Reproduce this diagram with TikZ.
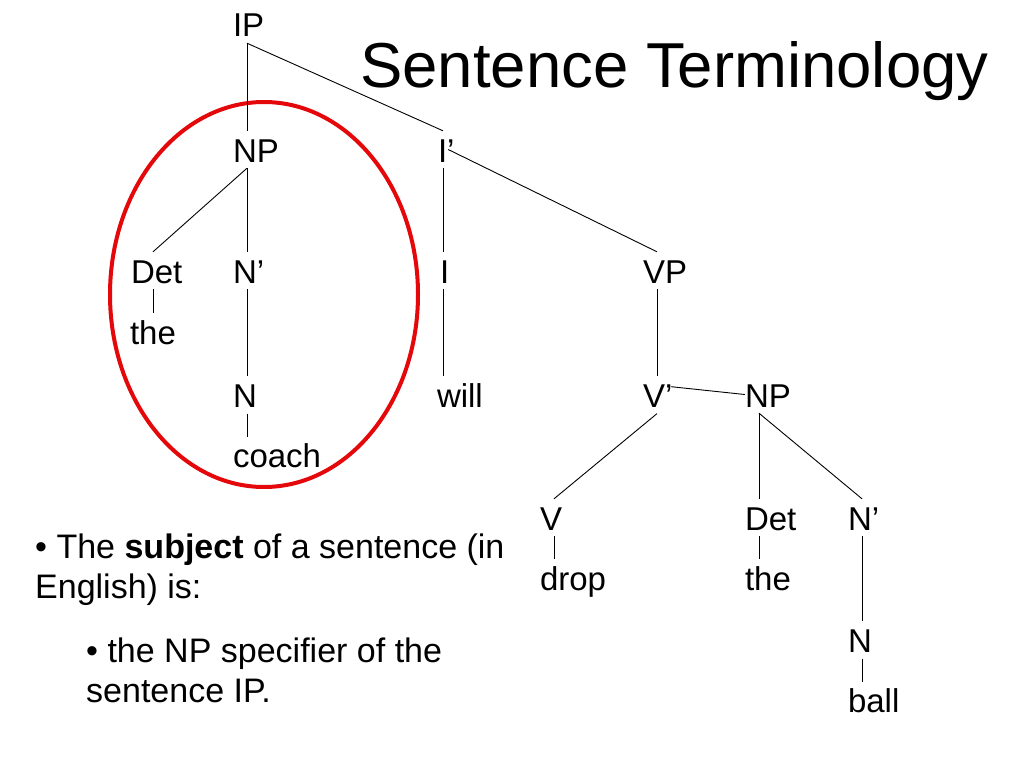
\documentclass[tikz,border=0pt]{standalone}
\usepackage{fontspec}
\setmainfont{Liberation Sans}
\usepackage{tikz}
\usetikzlibrary{positioning}
\definecolor{ringred}{RGB}{228,8,10}
\tikzset{
    cat/.style={inner sep=0pt, text width=28pt, align=left, text height=31pt, text depth=6pt, anchor=base, font=\fontsize{33}{38}\selectfont},
    word/.style={cat, anchor=north},
    link/.style={line width=0.9pt},
    ring/.style={draw=ringred, line width=4pt},
    point/.style={inner sep=0pt, anchor=base west, font=\fontsize{34}{40}\selectfont},
    heading/.style={inner sep=0pt, anchor=base west, font=\fontsize{63.5}{76}\selectfont},
}

\begin{document}
\begin{tikzpicture}[x=1pt, y=-1pt, node distance=23pt]
                        \useasboundingbox[fill=white] (0,0) rectangle (1024,768);
                        \node [heading] (title) at (360,87) {Sentence Terminology};
                        \draw [ring] (264,294.5) ellipse [x radius=154, y radius=192.5];
                        \node [cat] (ip) at (247,37) {IP};
                        \node [cat] (np) at (247,162) {NP};
                        \node [cat, text width=10pt] (ibar) at (443,162) {I’};
                        \node [cat, text width=44pt] (det) at (153,283) {Det};
                        \node [cat] (nbar) at (247,283) {N’};
                        \node [cat, text width=6pt] (i) at (443,283) {I};
                        \node [cat] (vp) at (657,283) {VP};
                        \node [word, text width=46pt] (the) [below=24pt of det] {the};
                        \node [word] (n) [below=87pt of nbar] {N};
                        \node [word] (coach) [below=of n] {coach};
                        \node [word, text width=12pt] (will) [below=87pt of i] {will};
                        \node [word] (vbar) [below=87pt of vp] {V’};
                        \node [cat] (obj) at (759,407) {NP};
                        \node [cat] (v) at (554,530) {V};
                        \node [cat] (det2) at (759,530) {Det};
                        \node [cat] (nbar2) at (862,530) {N’};
                        \node [word] (drop) [below=of v] {drop};
                        \node [word] (the2) [below=of det2] {the};
                        \node [word] (n2) [below=85pt of nbar2] {N};
                        \node [word] (ball) [below=of n2] {ball};
                        \draw[link] (ip.south) -- (np.north);
                        \draw[link] (ip.south) -- (ibar.north);
                        \draw[link] (np.south) -- (det.north);
                        \draw[link] (np.south) -- (nbar.north);
                        \draw[link] (det.south) -- (the.north);
                        \draw[link] (nbar.south) -- (n.north);
                        \draw[link] (n.south) -- (coach.north);
                        \draw[link] (ibar.south) -- (i.north);
                        \draw[link] (ibar.east) -- (vp.north);
                        \draw[link] (i.south) -- (will.north);
                        \draw[link] (vp.south) -- (vbar.north);
                        \draw[link] (vbar.30) -- (obj.west);
                        \draw[link] (vbar.south) -- (v.north);
                        \draw[link] (v.south) -- (drop.north);
                        \draw[link] (obj.south) -- (det2.north);
                        \draw[link] (obj.south) -- (nbar2.north);
                        \draw[link] (det2.south) -- (the2.north);
                        \draw[link] (nbar2.south) -- (n2.north);
                        \draw[link] (n2.south) -- (ball.north);
                        \node [point] (sub1) at (35,558) {• The \textbf{subject} of a sentence (in};
                        \node [point] (sub2) at (35,598) {English) is:};
                        \node [point] (spec1) at (86,662) {• the NP specifier of the};
                        \node [point] (spec2) at (86,702) {sentence IP.};
                    \end{tikzpicture}
\end{document}
